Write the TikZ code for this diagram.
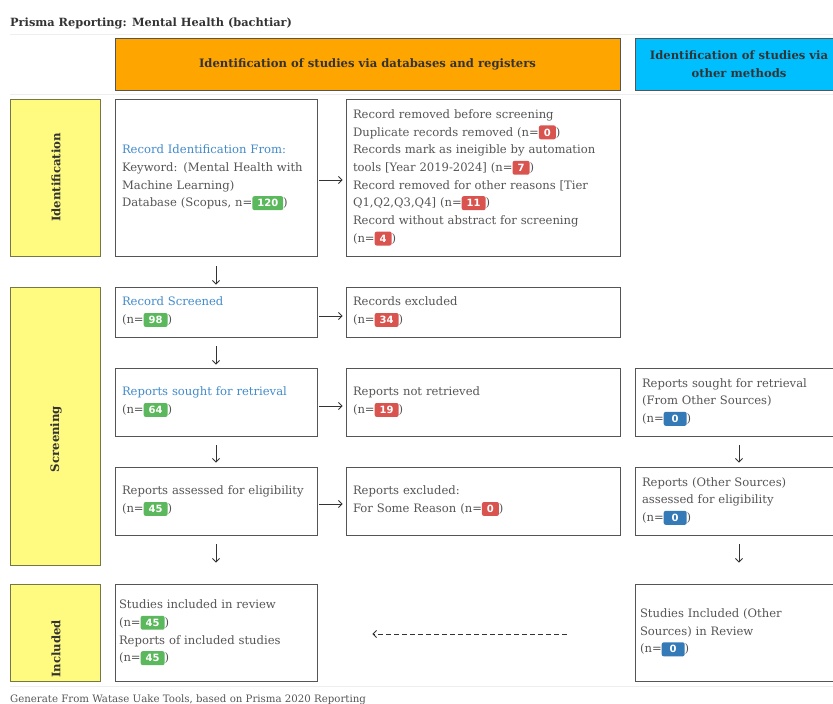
\documentclass[tikz,border=0pt]{standalone}
\usepackage{fontspec}
\setmainfont{DejaVu Serif}
\newfontfamily\badgefont{DejaVu Sans}
\usetikzlibrary{arrows.meta}
\definecolor{txt}{HTML}{555555}
\definecolor{txtd}{HTML}{333333}
\definecolor{bluet}{HTML}{428BCA}
\definecolor{bgreen}{HTML}{5CB85C}
\definecolor{bred}{HTML}{D9534F}
\definecolor{bblue}{HTML}{337AB7}
\definecolor{orangeh}{HTML}{FFA500}
\definecolor{cyanh}{HTML}{00BFFF}
\definecolor{yel}{HTML}{FFFA80}
\definecolor{edge}{HTML}{555555}
\definecolor{sepline}{HTML}{EEEEEE}
\newcounter{bdgc}
\tikzset{
  badgebase/.style={draw=none, minimum width=0pt, minimum height=0pt, text width={}, align=center, anchor=base, text=white, rounded corners=2pt, inner xsep=5pt, inner ysep=3.3pt, text height=7.3pt, text depth=0pt, font=\badgefont\bfseries\fontsize{10}{11}\selectfont},
  box/.style={draw=edge, line width=0.9pt, fill=white, text=txt, align=left, inner xsep=7pt, inner ysep=0pt, font=\fontsize{11.6}{17.7}\selectfont},
  phase/.style={draw=edge!80!yellow, line width=0.9pt, fill=yel},
  phasetxt/.style={rotate=90, text=txtd, font=\bfseries\fontsize{11.7}{12}\selectfont},
  hdr/.style={draw=edge, line width=0.9pt, align=center, text=txtd, font=\bfseries\fontsize{11.6}{18}\selectfont},
  arr/.style={-{Straight Barb[length=3.5pt,width=7pt]}, draw=txtd, line width=0.8pt},
  dasharr/.style={arr, dash pattern=on 5pt off 3pt},
  sep/.style={draw=sepline, line width=0.8pt}
}
\newcommand\bdg[2]{\stepcounter{bdgc}\tikz[baseline=0pt]\node[badgebase, name=bdg\arabic{bdgc}, fill=#1]{#2};}
\newcommand\bbdg[1]{\stepcounter{bdgc}\tikz[baseline=0pt]\node[badgebase, name=bdg\arabic{bdgc}, fill=bblue, minimum width=23pt]{#1};}
\begin{document}
\begin{tikzpicture}[x=1pt,y=-1pt]
\useasboundingbox (0,0) rectangle (833,704);
\clip (0,0) rectangle (833,704);
% title and separators
\node[anchor=base west, inner sep=0pt, text=txtd, font=\bfseries\fontsize{11.35}{12}\selectfont] (title) at (10,26) {Prisma Reporting: Mental Health (bachtiar)};
\coordinate (s1a) at (10,34); \coordinate (s1b) at (833,34);
\coordinate (s2a) at (10,94.5); \coordinate (s2b) at (833,94.5);
\coordinate (s3a) at (10,686); \coordinate (s3b) at (833,686);
\draw[sep] (s1a) -- (s1b);
\draw[sep] (s2a) -- (s2b);
\draw[sep] (s3a) -- (s3b);
% headers
\node[hdr, fill=orangeh, minimum width=505pt, minimum height=52pt] (H1) at (367.5,64) {Identification of studies via databases and registers};
\node[hdr, fill=cyanh, minimum width=208pt, minimum height=52pt] (H2) at (739,64) {Identification of studies via\\other methods};
% phases
\node[phase, minimum width=90pt, minimum height=157pt] (Y1) at (55,177.5) {};
\node[phase, minimum width=90pt, minimum height=278pt] (Y2) at (55,426) {};
\node[phase, minimum width=90pt, minimum height=97pt] (Y3) at (55,632.5) {};
\node[phasetxt] (Y1t) at (56,177.5) {Identification};
\node[phasetxt] (Y2t) at (56,439) {Screening};
\node[phasetxt] (Y3t) at (56,649) {Included};
% row 1
\node[box, minimum width=202pt, text width=188pt, minimum height=157pt] (A) at (216,177.5) {{\color{bluet}Record Identification From:}\\Keyword: (Mental Health with\\Machine Learning)\\Database (Scopus, n=\bdg{bgreen}{120})};
\node[box, minimum width=274pt, text width=260pt, minimum height=157pt] (B) at (483,177.5) {Record removed before screening\\Duplicate records removed (n=\bdg{bred}{0})\\Records mark as ineigible by automation\\tools [Year 2019-2024] (n=\bdg{bred}{7})\\Record removed for other reasons [Tier\\Q1,Q2,Q3,Q4] (n=\bdg{bred}{11})\\Record without abstract for screening\\(n=\bdg{bred}{4})};
% row 2
\node[box, minimum width=202pt, text width=188pt, minimum height=50pt] (S1) at (216,312) {{\color{bluet}Record Screened}\\(n=\bdg{bgreen}{98})};
\node[box, minimum width=274pt, text width=260pt, minimum height=50pt] (E1) at (483,312) {Records excluded\\(n=\bdg{bred}{34})};
% row 3
\node[box, minimum width=202pt, text width=188pt, minimum height=68pt] (S2) at (216,402) {{\color{bluet}Reports sought for retrieval}\\(n=\bdg{bgreen}{64})};
\node[box, minimum width=274pt, text width=260pt, minimum height=68pt] (E2) at (483,402) {Reports not retrieved\\(n=\bdg{bred}{19})};
\node[box, minimum width=208pt, text width=194pt, minimum height=68pt] (O2) at (739,402) {Reports sought for retrieval\\(From Other Sources)\\(n=\bbdg{0})};
% row 4
\node[box, minimum width=202pt, text width=188pt, minimum height=68pt] (S3) at (216,501) {Reports assessed for eligibility\\(n=\bdg{bgreen}{45})};
\node[box, minimum width=274pt, text width=260pt, minimum height=68pt] (E3) at (483,501) {Reports excluded:\\For Some Reason (n=\bdg{bred}{0})};
\node[box, minimum width=208pt, text width=194pt, minimum height=68pt] (O3) at (739,501) {Reports (Other Sources)\\assessed for eligibility\\(n=\bbdg{0})};
% row 5
\node[box, inner xsep=4pt, minimum width=202pt, text width=194pt, minimum height=97pt] (S4) at (216,632.5) {Studies included in review\\(n=\bdg{bgreen}{45})\\Reports of included studies\\(n=\bdg{bgreen}{45})};
\node[box, inner xsep=5pt, minimum width=208pt, text width=198pt, minimum height=97pt] (O4) at (739,632.5) {Studies Included (Other\\Sources) in Review\\(n=\bbdg{0})};
% footer
\node[anchor=base west, inner sep=0pt, text=txt, font=\fontsize{10.2}{11}\selectfont] (foot) at (10,702) {Generate From Watase Uake Tools, based on Prisma 2020 Reporting};
% horizontal arrows
\draw[arr, shorten <=2pt, shorten >=3pt] (A.east |- 0,180) -- (B.west |- 0,180);
\draw[arr, shorten <=2pt, shorten >=3pt] (S1.east |- 0,316) -- (E1.west |- 0,316);
\draw[arr, shorten <=2pt, shorten >=3pt] (S2.east |- 0,406) -- (E2.west |- 0,406);
\draw[arr, shorten <=2pt, shorten >=3pt] (S3.east |- 0,504) -- (E3.west |- 0,504);
% vertical arrows
\draw[arr, shorten <=10pt, shorten >=2pt] (A.south) -- (S1.north);
\draw[arr, shorten <=9pt, shorten >=3pt] (S1.south) -- (S2.north);
\draw[arr, shorten <=9pt, shorten >=4pt] (S2.south) -- (S3.north);
\draw[arr, shorten <=9pt, shorten >=21pt] (S3.south) -- (S4.north);
\draw[arr, shorten <=9pt, shorten >=4pt] (O2.south) -- (O3.north);
\draw[arr, shorten <=9pt, shorten >=21pt] (O3.south) -- (O4.north);
% dashed arrow
\draw[dasharr, shorten <=68pt, shorten >=55pt] (O4.west |- 0,634) -- (S4.east |- 0,634);
\end{tikzpicture}
\end{document}
